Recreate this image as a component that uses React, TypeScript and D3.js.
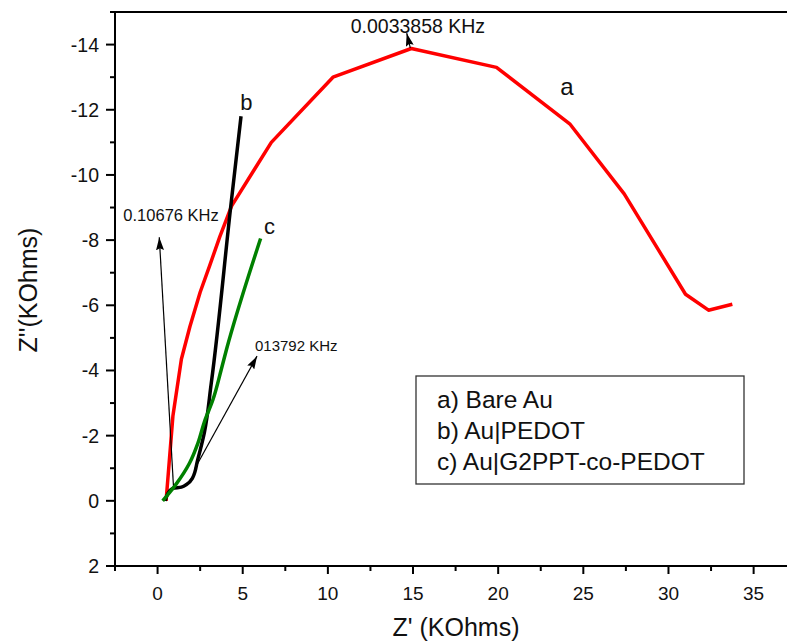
import React from "react";
import * as d3 from "d3";

// ---- data (Z' in KOhms, Z'' in KOhms) ----
const seriesA: [number, number][] = [
  [0.5, 0], [0.9, -2.6], [1.4, -4.35], [1.9, -5.35], [2.5, -6.4], [3.05, -7.2],
  [3.65, -8.1], [4.35, -9.05], [6.68, -11.0], [10.3, -13.0], [14.9, -13.88],
  [19.9, -13.3], [24.2, -11.57], [27.4, -9.42], [31.0, -6.34], [32.35, -5.85], [33.75, -6.03],
];
const seriesB: [number, number][] = [
  [0.45, 0], [0.7, -0.3], [0.9, -0.38], [1.4, -0.42], [1.7, -0.5], [2.05, -0.7],
  [2.35, -1.25], [2.75, -2.1], [3.15, -3.6], [4.3, -9.05], [4.9, -11.8],
];
const seriesC: [number, number][] = [
  [0.3, 0], [0.7, -0.25], [1.1, -0.52], [1.88, -1.16], [2.37, -1.77], [2.76, -2.44],
  [3.25, -3.1], [3.74, -4.03], [4.05, -4.65], [6.05, -8.05],
];
const xMajorTicks = [0, 5, 10, 15, 20, 25, 30, 35];
const xMinorTicks = [-2.5, 2.5, 7.5, 12.5, 17.5, 22.5, 27.5, 32.5, 37.5];
const yMajorTicks = [-14, -12, -10, -8, -6, -4, -2, 0, 2];
const yMinorTicks = [-15, -13, -11, -9, -7, -5, -3, -1, 1];
const legendItems = ["a) Bare Au", "b) Au|PEDOT", "c) Au|G2PPT-co-PEDOT"];
const curveLabels = [
  { text: "a", x: 24.04, y: -12.45, size: 24 },
  { text: "b", x: 5.21, y: -11.98, size: 22 },
  { text: "c", x: 6.57, y: -8.19, size: 22 },
];
const freqLabels = [
  { text: "0.0033858 KHz", x: 11.34, y: -14.37, size: 19.5 },
  { text: "0.10676 KHz", x: -2.01, y: -8.59, size: 16.5 },
  { text: "013792 KHz", x: 5.72, y: -4.61, size: 15 },
];
const arrows = [
  { x1: 14.84, y1: -13.9, x2: 14.63, y2: -14.35 },
  { x1: 0.93, y1: -0.48, x2: 0.1, y2: -8.09 },
  { x1: 2.2, y1: -1.0, x2: 5.84, y2: -4.44 },
];

const W = 787;
const H = 643;
const FONT = "'Liberation Sans', Arial, Helvetica, sans-serif";

export default function App() {
  const x = d3.scaleLinear().domain([-2.5, 37.5]).range([115, 115 + 40 * 17.03]);
  const y = d3.scaleLinear().domain([2, -15]).range([566, 12]);
  const line = d3
    .line<[number, number]>()
    .x((d) => x(d[0]))
    .y((d) => y(d[1]));
  const smooth = d3
    .line<[number, number]>()
    .x((d) => x(d[0]))
    .y((d) => y(d[1]))
    .curve(d3.curveMonotoneY);

  const x0 = x(-2.5);
  const yb = y(2);
  const yt = y(-15);

  return (
    <svg
      width={W}
      height={H}
      style={{ position: "absolute", left: 0, top: 0, background: "#fff" }}
      fontFamily={FONT}
    >
      <defs>
        <marker
          id="arr"
          markerUnits="userSpaceOnUse"
          markerWidth={14}
          markerHeight={8}
          refX={13}
          refY={4}
          orient="auto"
          viewBox="0 0 14 8"
        >
          <path d="M0,0 L13,4 L0,8 L2,4 Z" fill="#000" />
        </marker>
      </defs>
      <rect width={W} height={H} fill="#fff" />

      {/* series */}
      <path d={line(seriesA) || ""} fill="none" stroke="#ff0000" strokeWidth={3.5} strokeLinejoin="round" />
      <path d={smooth(seriesB) || ""} fill="none" stroke="#000" strokeWidth={3.5} strokeLinejoin="round" />
      <path d={smooth(seriesC) || ""} fill="none" stroke="#008000" strokeWidth={3.5} strokeLinejoin="round" />

      {/* arrows */}
      {arrows.map((a, i) => (
        <line
          key={i}
          x1={x(a.x1)}
          y1={y(a.y1)}
          x2={x(a.x2)}
          y2={y(a.y2)}
          stroke="#000"
          strokeWidth={1.2}
          markerEnd="url(#arr)"
        />
      ))}

      {/* axes frame */}
      <line x1={x0} y1={yt} x2={W} y2={yt} stroke="#000" strokeWidth={2} />
      <line x1={x0} y1={yt} x2={x0} y2={yb} stroke="#000" strokeWidth={2} />
      <line x1={x0 - 1} y1={yb} x2={W} y2={yb} stroke="#000" strokeWidth={2} />

      {/* x ticks */}
      {xMajorTicks.map((t) => (
        <g key={"xM" + t}>
          <line x1={x(t)} x2={x(t)} y1={yb} y2={yb + 8} stroke="#000" strokeWidth={2} />
          <text x={x(t)} y={600} textAnchor="middle" fontSize={19} fill="#111">
            {String(t)}
          </text>
        </g>
      ))}
      {xMinorTicks.map((t) => (
        <line key={"xm" + t} x1={x(t)} x2={x(t)} y1={yb} y2={yb + 5} stroke="#000" strokeWidth={2} />
      ))}

      {/* y ticks */}
      {yMajorTicks.map((t) => (
        <g key={"yM" + t}>
          <line x1={x0 - 9} x2={x0} y1={y(t)} y2={y(t)} stroke="#000" strokeWidth={2} />
          <text x={x0 - 16} y={y(t) + 7} textAnchor="end" fontSize={19.5} fill="#111">
            {t < 0 ? "-" + Math.abs(t) : String(t)}
          </text>
        </g>
      ))}
      {yMinorTicks.map((t) => (
        <line key={"ym" + t} x1={x0 - 5} x2={x0} y1={y(t)} y2={y(t)} stroke="#000" strokeWidth={2} />
      ))}

      {/* axis titles */}
      <text x={456} y={636} textAnchor="middle" fontSize={25} fill="#111">
        Z' (KOhms)
      </text>
      <text transform="translate(37,290) rotate(-90)" textAnchor="middle" fontSize={25} fill="#111">
        Z''(KOhms)
      </text>

      {/* curve labels */}
      {curveLabels.map((c) => (
        <text key={c.text} x={x(c.x)} y={y(c.y)} textAnchor="middle" fontSize={c.size} fill="#111">
          {c.text}
        </text>
      ))}

      {/* frequency annotations */}
      {freqLabels.map((f) => (
        <text key={f.text} x={x(f.x)} y={y(f.y)} fontSize={f.size} fill="#111">
          {f.text}
        </text>
      ))}

      {/* legend */}
      <rect x={416} y={376} width={328} height={108} fill="#fff" stroke="#333" strokeWidth={1.3} />
      {legendItems.map((s, i) => (
        <text key={s} x={437} y={408 + i * 31} fontSize={24.5} fill="#111">
          {s}
        </text>
      ))}
    </svg>
  );
}
